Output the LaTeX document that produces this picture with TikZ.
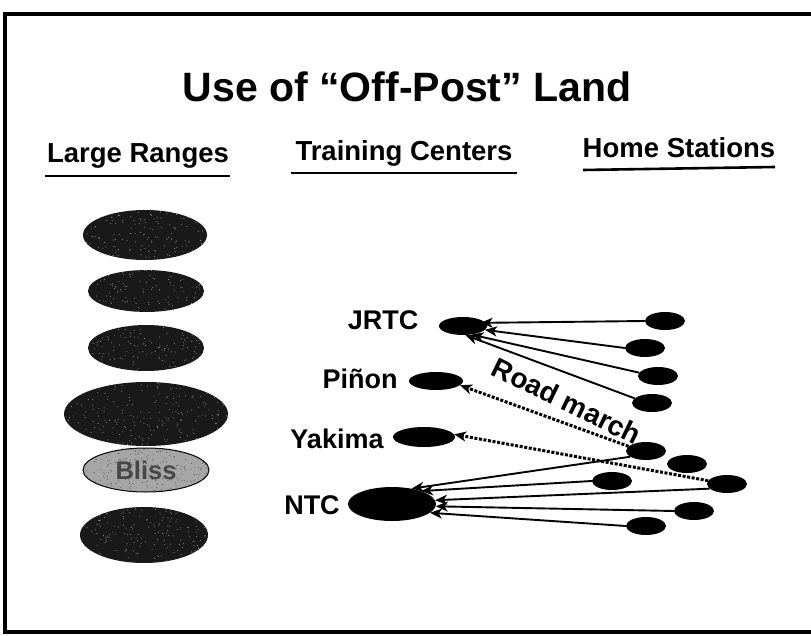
\documentclass[tikz,border=0pt]{standalone}
\usepackage{fontspec}
\setmainfont{Liberation Sans}
\usetikzlibrary{shapes.geometric,arrows.meta,calc}
\newcommand\specks[5]{%
  \begin{scope}
    \clip (#1) ellipse [x radius=#2, y radius=#3];
    \foreach \k in {1,...,#4} {\fill[#5] ($(#1)+(rand*#2,rand*#3)$) circle (0.55pt);}
  \end{scope}}
\begin{document}
\begin{tikzpicture}[x=1pt,y=-1pt,
  ttlstyle/.style={font=\bfseries\fontsize{41}{44}\selectfont, inner sep=0, anchor=base},
  hdstyle/.style={font=\bfseries\fontsize{27.5}{30}\selectfont, inner sep=0, anchor=base},
  ulstyle/.style={line width=2.6pt},
  lblstyle/.style={font=\bfseries\fontsize{27}{30}\selectfont, inner sep=0, anchor=base},
  lrange/.style={ellipse, fill=black!90, inner sep=0},
  sitebox/.style={ellipse, fill=black, inner sep=0},
  homebox/.style={ellipse, fill=black, inner sep=0, minimum width=40pt, minimum height=18pt},
  arrstyle/.style={line width=1.9pt, -{Stealth[length=12pt,width=10pt,inset=3.5pt]}},
  roadarr/.style={line width=3pt, dash pattern=on 3pt off 1.6pt, -{Stealth[length=12pt,width=10pt,inset=3.5pt]}},
]
\pgfmathsetseed{7}
\useasboundingbox (0,0) rectangle (811,636);
\fill[white] (0,0) rectangle (811,636);
\draw[line width=3.5pt] (811,14) -- (5,14) -- (5,632) -- (811,632);

% title and headings
\node[ttlstyle] (ttl) at (407,102) {Use of “Off-Post” Land};
\node[hdstyle] (hlr) at (138,163) {Large Ranges};
\node[hdstyle] (htc) at (404,161) {Training Centers};
\node[hdstyle] (hhs) at (679,158) {Home Stations};
\draw[ulstyle] (45,176) -- (230,176);
\draw[ulstyle] (291,173) -- (517,173);
\draw[ulstyle] (583,170) -- (775,167);

% large ranges
\node[lrange, minimum width=124pt, minimum height=50pt] (r1) at (145,235) {};
\specks{r1}{62}{25}{160}{black!45}
\node[lrange, minimum width=116pt, minimum height=42pt] (r2) at (146,291) {};
\specks{r2}{58}{21}{120}{black!45}
\node[lrange, minimum width=116pt, minimum height=46pt] (r3) at (146,348) {};
\specks{r3}{58}{23}{130}{black!45}
\node[lrange, minimum width=164pt, minimum height=64pt] (r4) at (146,414) {};
\specks{r4}{82}{32}{220}{black!45}
\node[ellipse, draw=black, line width=1pt, fill=black!35, inner sep=0,
      minimum width=126pt, minimum height=44pt] (bliss) at (146,470) {};
\specks{bliss}{63}{22}{260}{black!65}
\node[text=black!72, inner sep=0, font=\bfseries\fontsize{25.5}{28}\selectfont] (blisstxt) at (bliss) {Bliss};
\node[lrange, minimum width=128pt, minimum height=56pt] (r6) at (144,535) {};
\specks{r6}{64}{28}{180}{black!45}

% training centers
\node[lblstyle] (tjrtc) at (383,329) {JRTC};
\node[lblstyle] (tpinon) at (360,388) {Piñon};
\node[lblstyle] (tyak) at (337,448) {Yakima};
\node[lblstyle] (tntc) at (312,514) {NTC};
\node[sitebox, minimum width=48pt, minimum height=18pt] (jrtc) at (463,326) {};
\node[sitebox, minimum width=54pt, minimum height=18pt] (pinon) at (436,381) {};
\node[sitebox, minimum width=62pt, minimum height=20pt] (yakima) at (424,437) {};
\node[sitebox, minimum width=88pt, minimum height=34pt] (ntc) at (392,504) {};

% home stations
\node[homebox] (s1) at (665,321) {};
\node[homebox] (s2) at (645,348) {};
\node[homebox] (s3) at (658,376) {};
\node[homebox] (s4) at (652,403) {};
\node[homebox] (s5) at (646,451) {};
\node[homebox] (s6) at (687,464) {};
\node[homebox] (s7) at (612,481) {};
\node[homebox] (s8) at (727,484) {};
\node[homebox] (s9) at (694,511) {};
\node[homebox] (s10) at (646,526) {};

% arrows to JRTC
\draw[arrstyle, shorten >=-5pt] (s1.west) -- (jrtc.8);
\draw[arrstyle] (s2.west) -- (jrtc.-10);
\draw[arrstyle] (s3.170) -- (jrtc.-45);
\draw[arrstyle] (s4.165) -- (jrtc.-75);

% road march
\draw[roadarr] (s5.165) -- (pinon.-10);
\draw[roadarr] (s8.170) -- (yakima.5);
\node[font=\bfseries\fontsize{28}{30}\selectfont, rotate=-26, inner sep=0] (rm) at (567,401) {Road march};

% arrows to NTC
\draw[arrstyle] (s5.200) -- (ntc.38);
\draw[arrstyle] (s7.west) -- (ntc.24);
\draw[arrstyle] (s8.195) -- (ntc.5);
\draw[arrstyle] (s9.west) -- (ntc.-3);
\draw[arrstyle] (s10.west) -- (ntc.-13);
\end{tikzpicture}
\end{document}
